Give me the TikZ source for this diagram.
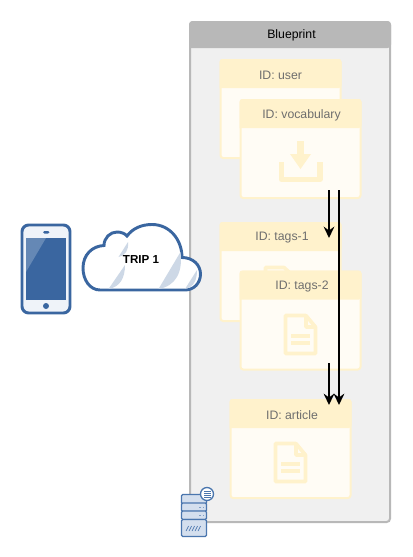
\documentclass[tikz,border=0pt]{standalone}
\usepackage{fontspec}
\setmainfont{Liberation Sans}
\usepackage{xcolor}
\usetikzlibrary{arrows.meta}
\definecolor{panelgray}{HTML}{F0F0F0}
\definecolor{panelline}{HTML}{B8B8B8}
\definecolor{cardhead}{HTML}{FFF2CC}
\definecolor{cardbody}{HTML}{FFFCF5}
\definecolor{cardtext}{HTML}{6E6E6E}
\definecolor{tripblue}{HTML}{3A66A0}
\definecolor{tripshard}{HTML}{CDD8E6}
\definecolor{tripsoft}{HTML}{EFF3F9}
\definecolor{rackblue}{HTML}{4A76AE}
\definecolor{rackfill}{HTML}{D4DFEE}
\tikzset{
  cardedge/.style={draw=cardhead,fill=cardbody,line width=1.5pt,rounded corners=2pt},
  cardtop/.style={fill=cardhead,rounded corners=2pt},
  cardlabel/.style={text=cardtext,font=\fontsize{9.2}{11}\selectfont},
  iconline/.style={draw=cardhead,line width=2.7pt,line join=round},
  rack/.style={draw=rackblue,fill=rackfill,line width=0.9pt,rounded corners=1pt},
  flow/.style={->,line width=1.7pt}
}
% one yellow card: name, left, top, label centre x, text
\newcommand{\tripcard}[5]{
\draw[cardedge] (#2,#3) rectangle ++(120,98);
\fill[cardtop] (#2-1,#3+28) -- (#2-1,#3-1) -- (#2+121,#3-1) -- (#2+121,#3+28) [sharp corners] -- cycle;
\node[cardlabel] (#1) at (#4,#3+15) {#5};
}
% page icon, from its top left corner
\newcommand{\pageicon}[2]{
\draw[iconline] (#1+22,#2+1.5) -- (#1+1.5,#2+1.5) -- (#1+1.5,#2+39.5) -- (#1+31.5,#2+39.5) -- (#1+31.5,#2+13) -- (#1+22,#2+1.5) -- (#1+22,#2+13) -- (#1+31.5,#2+13);
\draw[iconline] (#1+7,#2+22) -- (#1+26,#2+22);
\draw[iconline] (#1+7,#2+29) -- (#1+26,#2+29);
}
\begin{document}
\begin{tikzpicture}[x=0.75pt,y=-0.75pt,>={Stealth[length=8.5pt,width=8pt,inset=2.8pt]}]
\useasboundingbox (0,0) rectangle (412,557);
\fill[white] (0,0) rectangle (412,557);
% blueprint panel
\draw[panelline,fill=panelgray,line width=1.5pt,rounded corners=2.5pt] (190,22) rectangle (390,522);
\fill[panelline,rounded corners=2.5pt] (189,48) -- (189,21) -- (391,21) -- (391,48) [sharp corners] -- cycle;
\node[font=\fontsize{9.2}{11}\selectfont] (blueprint) at (291.5,35.5) {Blueprint};
% cards
\tripcard{user}{220.5}{60}{280.5}{ID: user}
\tripcard{vocabulary}{240.5}{100}{301.5}{ID: vocabulary}
\fill[cardhead] (297,141) rectangle (304,155);
\fill[cardhead] (290,154) -- (311,154) -- (300.5,169) -- cycle;
\draw[cardhead,line width=3.8pt,line join=round] (281.5,162) -- (281.5,179.5) -- (320,179.5) -- (320,162);
\tripcard{tagsone}{220.5}{223}{282}{ID: tags-1}
\draw[iconline] (265.5,290) -- (265.5,267.5) -- (284,267.5) -- (290,273) -- (305,273);
\tripcard{tagstwo}{240.5}{271.5}{302}{ID: tags-2}
\pageicon{284}{314}
\tripcard{article}{230.5}{400}{292}{ID: article}
\pageicon{274}{442}
% connectors
\coordinate (vocableft) at (329,190);
\coordinate (vocabright) at (339,190);
\coordinate (tagsonein) at (329,238);
\coordinate (tagstwoout) at (329,363);
\coordinate (articleleft) at (329,405);
\coordinate (articleright) at (339,405);
\draw[flow] (vocableft) -- (tagsonein);
\draw[flow] (vocabright) -- (articleright);
\draw[flow] (tagstwoout) -- (articleleft);
% phone
\draw[tripblue,fill=tripsoft,line width=2.2pt,rounded corners=5pt] (22,225) rectangle (70,313);
\fill[tripblue] (26,238) rectangle (66,300);
\fill[tripblue!78!white] (26,238) -- (46,238) -- (26,272) -- cycle;
\fill[tripblue,rounded corners=1pt] (43,231) rectangle (49.5,233.5);
\fill[tripblue] (46,306) circle (3);
% cloud
\draw[tripblue,fill=white,line width=2.2pt] (100,290) .. controls (90,290) and (83,280) .. (83,268)
  .. controls (83,255) and (92,246) .. (104,245.5)
  .. controls (104,238) and (110,232) .. (117,232)
  .. controls (121,232) and (125,233.5) .. (127,236)
  .. controls (133,228) and (142,224.5) .. (152,224.5)
  .. controls (170,224.5) and (182,240) .. (182,257.5)
  .. controls (193,257.5) and (200.5,265) .. (200.5,274)
  .. controls (200.5,283) and (194,290) .. (185,290) -- cycle;
\fill[tripshard] (128,242) .. controls (129,250) and (125,256) .. (118.5,257) -- (128,242) -- cycle;
\fill[tripshard] (125,265) .. controls (125,278) and (120,287) .. (108.5,289) -- cycle;
\fill[tripshard] (180.5,252) .. controls (183,272) and (176,286) .. (158.5,289) -- cycle;
\fill[tripshard] (197,270) .. controls (197,280) and (194,287) .. (185,289) -- cycle;
\node[font=\bfseries\fontsize{8.7}{10}\selectfont] (trip) at (141,259.5) {TRIP 1};
% server
\draw[rack] (181.5,494.5) rectangle (206.5,504);
\draw[rack] (181.5,503) rectangle (206.5,511.5);
\draw[rack] (181.5,511) rectangle (206.5,519.5);
\draw[rack] (181.5,519.5) rectangle (206.5,536.5);
\foreach \ry in {506.5,514.5}{
  \fill[rackblue!70] (199,\ry) rectangle ++(1.5,1.5);
  \fill[rackblue!70] (202.5,\ry) rectangle ++(1.5,1.5);
}
\foreach \hx in {186,189,192,195,198}{
  \draw[rackblue,line width=0.5pt] (\hx,531) -- ++(2.5,-5);
}
\draw[rackblue,fill=white,line width=1pt] (207,494) circle (6.5);
\foreach \ry in {490.5,492.5,494.5,496.5}{
  \fill[rackblue] (203.5,\ry) rectangle ++(7,1.4);
}
\end{tikzpicture}
\end{document}
